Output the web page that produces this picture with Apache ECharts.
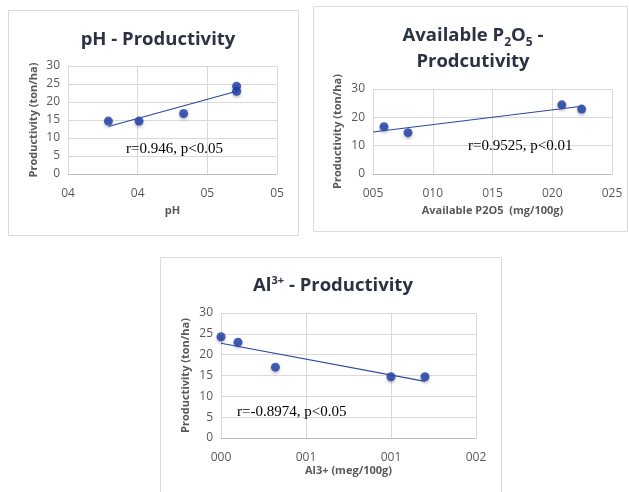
<!DOCTYPE html>
<html>
<head>
<meta charset="utf-8">
<script src="https://cdn.jsdelivr.net/npm/echarts@6/dist/echarts.min.js"></script>
<style>
html,body{margin:0;padding:0;background:#fff;}
#chart{width:629px;height:492px;}
</style>
</head>
<body>
<div id="chart"></div>
<script>
// ---- data ----
const phX = [3.79, 4.01, 4.33, 4.71, 4.71];
const phY = [14.7, 14.7, 16.8, 24.4, 23.0];
const phTicks = ['04', '04', '05', '05'];

const pX = [5.92, 7.93, 20.8, 22.46];
const pY = [16.7, 14.6, 24.4, 22.9];
const pTicks = ['005', '010', '015', '020', '025'];

const alX = [0.0, 0.10, 0.32, 1.0, 1.2];
const alY = [24.3, 23.0, 17.0, 14.7, 14.7];
const alTicks = ['000', '001', '001', '002'];

const annotations = ['r=0.946, p<0.05', 'r=0.9525, p<0.01', 'r=-0.8974, p<0.05'];

function fit(xs, ys) {
  const n = xs.length;
  const mx = xs.reduce((a, b) => a + b, 0) / n;
  const my = ys.reduce((a, b) => a + b, 0) / n;
  let sxy = 0, sxx = 0;
  for (let i = 0; i < n; i++) { sxy += (xs[i] - mx) * (ys[i] - my); sxx += (xs[i] - mx) ** 2; }
  const b = sxy / sxx, a = my - b * mx;
  return x => a + b * x;
}
function trend(xs, ys, x0, x1) {
  const f = fit(xs, ys);
  return [[x0, f(x0)], [x1, f(x1)]];
}
function pts(xs, ys) { return xs.map((x, i) => [x, ys[i]]); }

const chart = echarts.init(document.getElementById('chart'));
const labelColor = '#595959';
const gridColor = '#d9d9d9';
const sans = '"Open Sans", "DejaVu Sans", sans-serif';

function xAxis(idx, min, max, interval, ticks, name, gap) {
  return {
    type: 'value', gridIndex: idx, min: min, max: max, interval: interval,
    name: name, nameLocation: 'middle', nameGap: gap,
    nameTextStyle: { color: labelColor, fontWeight: 'bold', fontSize: 11, fontFamily: sans },
    axisLine: { show: true, lineStyle: { color: '#bfbfbf' } },
    axisTick: { show: false },
    splitLine: { show: true, lineStyle: { color: gridColor } },
    axisLabel: {
      color: labelColor, fontSize: 12, fontFamily: sans, margin: 14,
      formatter: (v) => ticks[Math.round((v - min) / interval)]
    }
  };
}
function yAxis(idx, interval, gap) {
  return {
    type: 'value', gridIndex: idx, min: 0, max: 30, interval: interval,
    name: 'Productivity (ton/ha)', nameLocation: 'middle', nameGap: gap,
    nameTextStyle: { color: labelColor, fontWeight: 'bold', fontSize: 11, fontFamily: sans },
    axisLine: { show: false }, axisTick: { show: false },
    splitLine: { show: true, lineStyle: { color: gridColor } },
    axisLabel: { color: labelColor, fontSize: 12, fontFamily: sans, margin: 8 }
  };
}
const dot = {
  symbolSize: 9,
  itemStyle: { color: '#1a3aa6', shadowColor: 'rgba(0,0,0,0.3)', shadowBlur: 3, shadowOffsetY: 2 }
};
const lineStyle = { color: '#2a48a0', width: 1.2 };

const titleColor = '#2b3244';
const titleStyle = {
  color: titleColor, fontSize: 18.5, fontWeight: 'bold', fontFamily: sans, lineHeight: 26,
  rich: {
    m: { fontSize: 18.5, fontWeight: 'bold', color: titleColor, fontFamily: sans, lineHeight: 26, verticalAlign: 'middle' },
    sub: { fontSize: 12, fontWeight: 'bold', color: titleColor, fontFamily: sans, lineHeight: 12, verticalAlign: 'bottom' },
    sup: { fontSize: 11, fontWeight: 'bold', color: titleColor, fontFamily: sans, lineHeight: 11, verticalAlign: 'top', padding: [2, 0, 0, 0] }
  }
};
const annStyle = { color: '#000', fontSize: 15, fontWeight: 'normal', fontFamily: '"Liberation Serif", "Times New Roman", serif' };

chart.setOption({
  animation: false,
  backgroundColor: '#fff',
  graphic: [
    { type: 'rect', shape: { x: 8.5, y: 10.5, width: 290, height: 225 }, style: { fill: 'none', stroke: '#d6dce4', lineWidth: 1 } },
    { type: 'rect', shape: { x: 313.5, y: 6.5, width: 314, height: 225 }, style: { fill: 'none', stroke: '#d6dce4', lineWidth: 1 } },
    { type: 'rect', shape: { x: 160.5, y: 257.5, width: 341, height: 250 }, style: { fill: 'none', stroke: '#d6dce4', lineWidth: 1 } }
  ],
  title: [
    { text: '{m|pH - Productivity}', left: 153, top: 22, textAlign: 'center', textStyle: titleStyle },
    { text: '{m|Available P}{sub|2}{m|O}{sub|5}{m| -}', left: 468, top: 18, textAlign: 'center', textStyle: titleStyle },
    { text: '{m|Prodcutivity}', left: 468, top: 44, textAlign: 'center', textStyle: titleStyle },
    { text: '{m|Al}{sup|3+}{m| - Productivity}', left: 328, top: 268, textAlign: 'center', textStyle: titleStyle },
    { text: annotations[0], left: 121, top: 137, textStyle: annStyle },
    { text: annotations[1], left: 463, top: 134, textStyle: annStyle },
    { text: annotations[2], left: 232, top: 400, textStyle: annStyle }
  ],
  grid: [
    { left: 68, top: 66, width: 209, height: 108 },
    { left: 373, top: 89, width: 239, height: 85 },
    { left: 221, top: 313, width: 255, height: 125 }
  ],
  xAxis: [
    xAxis(0, 3.5, 5.0, 0.5, phTicks, 'pH', 31),
    xAxis(1, 5, 25, 5, pTicks, 'Available P2O5  (mg/100g)', 31),
    xAxis(2, 0, 1.5, 0.5, alTicks, 'Al3+ (meg/100g)', 26)
  ],
  yAxis: [ yAxis(0, 5, 29), yAxis(1, 10, 30), yAxis(2, 5, 30) ],
  series: [
    { type: 'line', xAxisIndex: 0, yAxisIndex: 0, data: trend(phX, phY, Math.min(...phX), Math.max(...phX)), showSymbol: false, lineStyle: lineStyle, silent: true },
    Object.assign({ type: 'scatter', xAxisIndex: 0, yAxisIndex: 0, data: pts(phX, phY) }, dot),
    { type: 'line', xAxisIndex: 1, yAxisIndex: 1, data: trend(pX, pY, 5, Math.max(...pX)), showSymbol: false, lineStyle: lineStyle, silent: true },
    Object.assign({ type: 'scatter', xAxisIndex: 1, yAxisIndex: 1, data: pts(pX, pY) }, dot),
    { type: 'line', xAxisIndex: 2, yAxisIndex: 2, data: trend(alX, alY, Math.min(...alX), Math.max(...alX)), showSymbol: false, lineStyle: lineStyle, silent: true },
    Object.assign({ type: 'scatter', xAxisIndex: 2, yAxisIndex: 2, data: pts(alX, alY) }, dot)
  ]
});
</script>
</body>
</html>
